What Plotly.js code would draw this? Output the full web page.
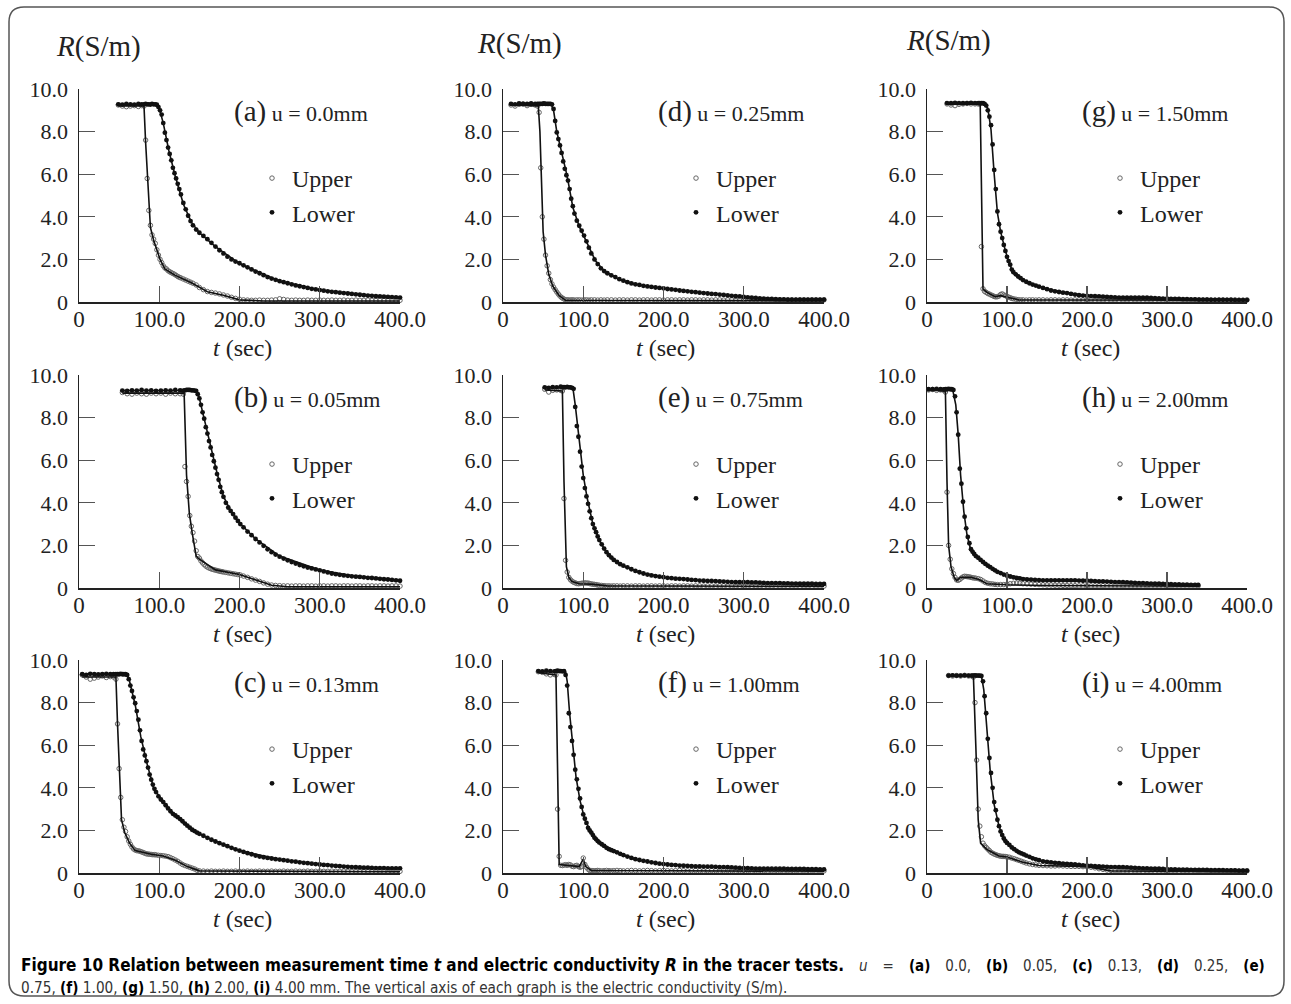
<!DOCTYPE html>
<html><head><meta charset="utf-8">
<script src="https://cdn.plot.ly/plotly-3.0.1.min.js"></script>
<style>body{margin:0;background:#fff}#chart{width:1291px;height:1004px}</style>
</head><body><div id="chart"></div>
<script>
// ---------------- DATA ----------------
// (a) u = 0.0mm
const T_a = [49,54,59,64,69,74,78,81,83,85,
 87,89,91,93,95,97,99,101,103,105,
 107,109,111,113,115,117,119,121,123,125,
 127,130,133,136,139,142,146,150,155,160,
 165,170,175,180,185,190,195,200,205,210,
 215,220,225,230,235,240,245,250,255,260,
 265,270,275,280,285,290,295,300,305,310,
 315,320,325,330,335,340,345,350,355,360,
 365,370,375,380,385,390,395,400];
const U_a = [9.25,9.2,9.17,9.2,9.22,9.18,9.22,9.2,7.6,5.8,
 4.3,3.6,3.15,2.95,2.75,2.45,2.2,2.0,1.85,1.7,
 1.6,1.55,1.47,1.42,1.38,1.34,1.3,1.25,1.2,1.16,
 1.13,1.08,1.03,0.98,0.93,0.88,0.8,0.68,0.58,0.49,
 0.45,0.42,0.38,0.33,0.28,0.22,0.17,0.13,0.1,0.09,
 0.08,0.08,0.09,0.08,0.08,0.09,0.1,0.15,0.12,0.09,
 0.08,0.09,0.08,0.08,0.09,0.08,0.08,0.09,0.08,0.08,
 0.09,0.08,0.08,0.09,0.08,0.08,0.09,0.08,0.08,0.09,
 0.08,0.08,0.09,0.08,0.08,0.09,0.08,0.08];
const L_a = [9.28,9.27,9.3,9.28,9.27,9.3,9.28,9.28,9.3,9.28,
 9.28,9.27,9.3,9.28,9.28,9.26,9.15,9.0,8.8,8.4,
 7.95,7.6,7.25,6.95,6.65,6.3,6.05,5.8,5.55,5.3,
 5.05,4.65,4.35,4.05,3.8,3.6,3.4,3.25,3.1,2.95,
 2.78,2.6,2.43,2.28,2.13,2.0,1.9,1.82,1.72,1.63,
 1.53,1.43,1.35,1.26,1.17,1.1,1.04,0.98,0.93,0.88,
 0.83,0.78,0.74,0.7,0.66,0.62,0.59,0.56,0.53,0.5,
 0.48,0.46,0.44,0.42,0.4,0.38,0.36,0.34,0.32,0.3,
 0.29,0.27,0.26,0.25,0.24,0.23,0.22,0.21];
const ULt_a = [49,81,83,89,93,101,107,120,140,160,180,200,230,400];
const ULr_a = [9.2,9.2,7.5,3.5,2.9,2.0,1.55,1.25,0.9,0.48,0.32,0.1,0.05,0.05];
const LLt_a = [49,96,100,105,112,120,130,140,150,170,200,250,300,350,400];
const LLr_a = [9.28,9.28,9.1,8.4,7.1,5.9,4.6,3.75,3.25,2.6,1.8,0.98,0.55,0.34,0.2];

// (b) u = 0.05mm
const T_b = [54,60,66,72,78,84,90,96,102,108,
 114,120,126,130,132,134,136,138,140,142,
 144,146,148,150,152,154,156,158,160,162,
 164,166,168,170,172,174,176,178,180,183,
 186,189,192,195,198,201,205,210,215,220,
 225,230,235,240,245,250,255,260,265,270,
 275,280,285,290,295,300,305,310,315,320,
 325,330,335,340,345,350,355,360,365,370,
 375,380,385,390,395,400];
const U_b = [9.18,9.12,9.1,9.15,9.12,9.1,9.15,9.12,9.15,9.1,
 9.15,9.12,9.12,9.1,5.7,5.0,4.3,3.4,2.9,2.6,
 2.2,1.75,1.48,1.4,1.27,1.18,1.1,1.03,0.98,0.94,
 0.91,0.88,0.86,0.84,0.82,0.8,0.78,0.77,0.75,0.73,
 0.71,0.69,0.67,0.65,0.63,0.61,0.56,0.5,0.43,0.37,
 0.31,0.24,0.18,0.14,0.12,0.11,0.1,0.1,0.09,0.1,
 0.1,0.09,0.1,0.1,0.09,0.1,0.1,0.09,0.1,0.1,
 0.09,0.1,0.1,0.09,0.1,0.1,0.09,0.1,0.1,0.09,
 0.1,0.1,0.09,0.1,0.1,0.09];
const L_b = [9.27,9.25,9.28,9.27,9.3,9.27,9.28,9.25,9.27,9.28,
 9.27,9.3,9.28,9.27,9.28,9.3,9.3,9.3,9.28,9.28,
 9.27,9.25,9.1,8.9,8.6,8.25,7.95,7.55,7.25,6.9,
 6.6,6.25,5.95,5.65,5.35,5.08,4.75,4.5,4.28,4.0,
 3.78,3.62,3.47,3.3,3.15,3.0,2.85,2.65,2.48,2.3,
 2.14,1.98,1.82,1.68,1.57,1.47,1.38,1.3,1.22,1.15,
 1.08,1.02,0.96,0.92,0.87,0.83,0.78,0.73,0.68,0.65,
 0.62,0.59,0.57,0.55,0.53,0.52,0.5,0.48,0.47,0.45,
 0.43,0.41,0.4,0.38,0.36,0.34];
const ULt_b = [54,131,134,137.5,141,146,150,170,200,220,240,260,400];
const ULr_b = [9.15,9.15,5.3,3.5,2.6,1.5,1.35,0.85,0.63,0.37,0.13,0.06,0.06];
const LLt_b = [54,146,150,158,165,172,180,190,200,220,250,300,350,400];
const LLr_b = [9.27,9.27,8.9,7.6,6.4,5.4,4.3,3.55,3.05,2.3,1.5,0.84,0.52,0.33];

// (c) u = 0.13mm
const T_c = [4,9,14,19,24,29,34,39,43,46,
 48,50,52,54,56,58,60,62,64,66,
 68,70,72,74,76,78,80,82,84,86,
 88,90,92,94,96,99,102,105,108,111,
 114,117,120,123,126,129,132,135,138,141,
 144,147,150,155,160,165,170,175,180,185,
 190,195,200,205,210,215,220,225,230,235,
 240,245,250,255,260,265,270,275,280,285,
 290,295,300,305,310,315,320,325,330,335,
 340,345,350,355,360,365,370,375,380,385,
 390,395,400];
const U_c = [9.3,9.2,9.1,9.15,9.2,9.25,9.18,9.22,9.2,9.1,
 7.0,4.9,3.55,2.5,2.15,1.95,1.7,1.5,1.35,1.22,
 1.13,1.08,1.05,1.04,1.02,0.99,0.96,0.93,0.9,0.89,
 0.88,0.87,0.86,0.86,0.85,0.83,0.82,0.81,0.79,0.77,
 0.72,0.67,0.61,0.55,0.47,0.4,0.35,0.31,0.27,0.23,
 0.19,0.13,0.1,0.09,0.08,0.09,0.08,0.08,0.09,0.08,
 0.08,0.09,0.08,0.08,0.09,0.08,0.08,0.09,0.08,0.08,
 0.09,0.08,0.08,0.09,0.08,0.08,0.09,0.08,0.08,0.09,
 0.08,0.08,0.09,0.08,0.08,0.09,0.08,0.08,0.09,0.08,
 0.08,0.09,0.08,0.08,0.09,0.08,0.08,0.09,0.08,0.08,
 0.09,0.08,0.08];
const L_c = [9.33,9.3,9.35,9.33,9.32,9.33,9.35,9.33,9.33,9.33,
 9.33,9.33,9.35,9.33,9.33,9.33,9.3,9.1,8.8,8.55,
 8.25,7.97,7.6,7.2,6.7,6.2,5.8,5.52,5.25,4.95,
 4.62,4.38,4.15,3.95,3.8,3.6,3.45,3.33,3.18,3.03,
 2.9,2.78,2.7,2.62,2.53,2.43,2.32,2.22,2.13,2.03,
 1.97,1.9,1.84,1.75,1.65,1.56,1.48,1.4,1.33,1.26,
 1.18,1.11,1.05,0.99,0.93,0.88,0.82,0.77,0.74,0.71,
 0.68,0.65,0.63,0.6,0.58,0.55,0.53,0.5,0.48,0.46,
 0.44,0.42,0.4,0.38,0.37,0.35,0.33,0.32,0.3,0.29,
 0.28,0.27,0.26,0.25,0.25,0.24,0.23,0.23,0.23,0.22,
 0.22,0.22,0.22];
const ULt_c = [4,46,48,51,53,57,63,70,90,105,120,135,150,400];
const ULr_c = [9.2,9.2,7.0,4.0,2.5,1.9,1.4,1.05,0.88,0.8,0.6,0.3,0.1,0.06];
const LLt_c = [4,60,63,70,77,85,93,105,120,140,160,200,250,300,350,400];
const LLr_c = [9.33,9.33,9.0,7.9,6.4,5.1,4.0,3.3,2.7,2.05,1.65,1.05,0.63,0.4,0.26,0.22];

// (d) u = 0.25mm
const T_d = [10,15,20,25,30,35,40,43,45,47,
 49,51,53,55,57,59,61,63,65,67,
 69,71,73,75,77,79,81,83,85,87,
 89,92,95,98,101,104,107,110,114,118,
 122,126,130,135,140,145,150,155,160,165,
 170,175,180,185,190,195,200,205,210,215,
 220,225,230,235,240,245,250,255,260,265,
 270,275,280,285,290,295,300,305,310,315,
 320,325,330,335,340,345,350,355,360,365,
 370,375,380,385,390,395,400];
const U_d = [9.25,9.2,9.28,9.3,9.22,9.28,9.25,9.2,8.9,6.3,
 4.0,2.95,2.2,1.7,1.35,1.05,0.85,0.7,0.58,0.47,
 0.37,0.28,0.21,0.16,0.12,0.1,0.1,0.09,0.1,0.1,
 0.09,0.1,0.1,0.09,0.1,0.1,0.09,0.1,0.1,0.09,
 0.1,0.09,0.1,0.1,0.09,0.1,0.1,0.09,0.1,0.1,
 0.09,0.1,0.1,0.09,0.1,0.1,0.09,0.1,0.1,0.09,
 0.1,0.1,0.09,0.1,0.1,0.09,0.1,0.1,0.09,0.1,
 0.1,0.09,0.1,0.1,0.09,0.1,0.1,0.09,0.1,0.1,
 0.09,0.1,0.1,0.09,0.1,0.1,0.09,0.1,0.1,0.09,
 0.1,0.1,0.09,0.1,0.1,0.09,0.1];
const L_d = [9.3,9.28,9.32,9.3,9.3,9.32,9.3,9.3,9.3,9.3,
 9.3,9.32,9.3,9.3,9.3,9.3,9.28,9.06,8.5,7.96,
 7.65,7.35,7.0,6.6,6.25,5.95,5.7,5.3,4.85,4.5,
 4.15,3.82,3.58,3.35,3.12,2.85,2.55,2.28,2.0,1.78,
 1.58,1.45,1.35,1.25,1.17,1.07,1.0,0.93,0.87,0.83,
 0.8,0.76,0.73,0.71,0.68,0.66,0.64,0.61,0.59,0.57,
 0.54,0.52,0.5,0.48,0.46,0.44,0.42,0.4,0.38,0.37,
 0.35,0.33,0.31,0.29,0.27,0.26,0.24,0.22,0.2,0.19,
 0.17,0.16,0.15,0.14,0.13,0.12,0.12,0.11,0.11,0.11,
 0.11,0.11,0.11,0.11,0.11,0.11,0.11];
const ULt_d = [10,44,46,48,50,53,57,62,70,78,400];
const ULr_d = [9.25,9.2,8.0,5.0,3.3,2.2,1.3,0.75,0.3,0.08,0.06];
const LLt_d = [10,60,63,67,72,80,87,95,105,115,125,145,170,200,250,300,350,400];
const LLr_d = [9.3,9.3,9.0,8.0,7.2,5.9,4.45,3.55,2.75,1.95,1.5,1.05,0.8,0.64,0.42,0.24,0.12,0.1];

// (e) u = 0.75mm
const T_e = [52,57,62,67,72,74,76,78,80,82,
 84,86,88,90,92,94,96,98,100,102,
 104,106,108,110,112,114,116,118,120,123,
 126,129,132,135,138,142,146,150,155,160,
 165,170,175,180,185,190,195,200,205,210,
 215,220,225,230,235,240,245,250,255,260,
 265,270,275,280,285,290,295,300,305,310,
 315,320,325,330,335,340,345,350,355,360,
 365,370,375,380,385,390,395,400];
const U_e = [9.33,9.2,9.28,9.3,9.28,9.25,4.2,1.3,0.75,0.5,
 0.39,0.32,0.27,0.24,0.21,0.2,0.21,0.22,0.23,0.24,
 0.23,0.23,0.21,0.19,0.18,0.17,0.16,0.14,0.13,0.12,
 0.11,0.1,0.1,0.09,0.1,0.1,0.09,0.1,0.1,0.09,
 0.1,0.1,0.09,0.1,0.1,0.09,0.1,0.1,0.09,0.1,
 0.1,0.09,0.1,0.1,0.09,0.1,0.1,0.09,0.1,0.1,
 0.09,0.1,0.1,0.09,0.1,0.1,0.09,0.1,0.1,0.09,
 0.1,0.1,0.09,0.1,0.1,0.09,0.1,0.1,0.09,0.1,
 0.1,0.09,0.1,0.1,0.09,0.1,0.1,0.09];
const L_e = [9.42,9.4,9.43,9.42,9.45,9.42,9.43,9.42,9.44,9.42,
 9.42,9.4,9.35,8.5,7.6,7.1,6.4,5.7,5.16,4.69,
 4.3,3.95,3.6,3.28,3.0,2.8,2.62,2.42,2.25,2.05,
 1.85,1.68,1.54,1.43,1.32,1.22,1.12,1.05,0.97,0.88,
 0.8,0.74,0.68,0.63,0.59,0.56,0.53,0.51,0.48,0.46,
 0.44,0.43,0.42,0.4,0.38,0.37,0.35,0.34,0.33,0.33,
 0.32,0.31,0.3,0.29,0.28,0.27,0.27,0.27,0.27,0.26,
 0.26,0.25,0.24,0.23,0.23,0.23,0.23,0.22,0.22,0.21,
 0.21,0.2,0.2,0.2,0.2,0.19,0.19,0.19];
const ULt_e = [52,74,76,79,82,86,95,110,130,400];
const ULr_e = [9.3,9.25,5.0,1.0,0.5,0.3,0.2,0.18,0.1,0.08];
const LLt_e = [52,87,90,95,100,105,112,120,130,145,170,200,250,300,400];
const LLr_e = [9.42,9.42,8.6,7.0,5.3,4.2,3.0,2.25,1.6,1.12,0.74,0.5,0.34,0.27,0.18];

// (f) u = 1.00mm
const T_f = [44,49,54,59,64,66,68,70,72,74,
 76,78,80,82,84,86,88,90,92,94,
 96,98,100,102,104,106,108,110,112,114,
 116,118,120,123,126,129,132,135,138,142,
 146,150,155,160,165,170,175,180,185,190,
 195,200,205,210,215,220,225,230,235,240,
 245,250,255,260,265,270,275,280,285,290,
 295,300,305,310,315,320,325,330,335,340,
 345,350,355,360,365,370,375,380,385,390,
 395,400];
const U_f = [9.45,9.42,9.35,9.3,9.32,9.3,3.0,0.78,0.36,0.35,
 0.37,0.39,0.36,0.4,0.38,0.32,0.3,0.34,0.36,0.3,
 0.27,0.3,0.7,0.4,0.27,0.18,0.12,0.11,0.11,0.1,
 0.11,0.12,0.11,0.1,0.11,0.12,0.11,0.1,0.11,0.12,
 0.11,0.1,0.11,0.12,0.11,0.1,0.11,0.12,0.11,0.1,
 0.11,0.12,0.11,0.1,0.11,0.12,0.11,0.1,0.11,0.12,
 0.11,0.1,0.11,0.12,0.11,0.1,0.11,0.12,0.11,0.1,
 0.11,0.12,0.11,0.1,0.11,0.12,0.11,0.1,0.11,0.12,
 0.11,0.1,0.11,0.12,0.11,0.1,0.11,0.12,0.11,0.1,
 0.11,0.1];
const L_f = [9.48,9.47,9.5,9.48,9.47,9.48,9.5,9.48,9.48,9.47,
 9.48,9.3,8.8,7.5,6.85,6.2,5.55,4.85,4.4,3.95,
 3.5,3.1,2.75,2.55,2.35,2.12,2.0,1.9,1.78,1.66,
 1.58,1.5,1.43,1.35,1.27,1.18,1.12,1.07,1.03,0.97,
 0.9,0.84,0.77,0.71,0.65,0.61,0.57,0.54,0.5,0.47,
 0.44,0.42,0.4,0.38,0.37,0.35,0.34,0.33,0.32,0.31,
 0.31,0.3,0.3,0.3,0.29,0.28,0.28,0.27,0.26,0.25,
 0.24,0.23,0.23,0.22,0.21,0.21,0.2,0.2,0.2,0.2,
 0.2,0.2,0.19,0.19,0.19,0.19,0.19,0.18,0.18,0.18,
 0.17,0.17];
const ULt_f = [44,66,70,80,95,100,103,110,400];
const ULr_f = [9.4,9.3,0.4,0.35,0.3,0.65,0.3,0.12,0.08];
const LLt_f = [44,78,80,83,87,91,96,102,110,120,140,170,200,250,300,400];
const LLr_f = [9.45,9.45,9.0,7.5,6.0,4.5,3.4,2.5,1.9,1.45,1.0,0.6,0.42,0.3,0.23,0.15];

// (g) u = 1.50mm
const T_g = [25,30,35,40,45,50,55,60,64,66,
 68,70,72,74,76,78,80,82,84,86,
 88,90,92,94,96,98,100,102,104,106,
 108,111,114,117,120,124,128,132,136,140,
 145,150,155,160,165,170,175,180,185,190,
 195,200,205,210,215,220,225,230,235,240,
 245,250,255,260,265,270,275,280,285,290,
 295,300,305,310,315,320,325,330,335,340,
 345,350,355,360,365,370,375,380,385,390,
 395,400];
const U_g = [9.3,9.25,9.22,9.28,9.3,9.32,9.3,9.3,9.3,9.3,
 2.6,0.62,0.5,0.45,0.4,0.37,0.33,0.3,0.26,0.24,
 0.25,0.28,0.35,0.38,0.33,0.3,0.26,0.23,0.2,0.17,
 0.15,0.13,0.11,0.1,0.1,0.09,0.1,0.1,0.09,0.1,
 0.1,0.09,0.1,0.1,0.09,0.1,0.1,0.09,0.1,0.1,
 0.09,0.1,0.1,0.09,0.1,0.1,0.09,0.1,0.1,0.09,
 0.1,0.1,0.09,0.1,0.1,0.09,0.1,0.1,0.09,0.1,
 0.1,0.09,0.1,0.1,0.09,0.1,0.1,0.09,0.1,0.1,
 0.09,0.1,0.1,0.09,0.1,0.1,0.09,0.1,0.1,0.09,
 0.09,0.1];
const L_g = [9.34,9.33,9.35,9.34,9.33,9.34,9.35,9.34,9.34,9.34,
 9.34,9.33,9.3,9.22,9.0,8.7,8.3,7.4,6.2,5.3,
 4.25,3.65,3.3,3.0,2.68,2.4,2.12,1.92,1.75,1.52,
 1.4,1.3,1.2,1.12,1.03,0.95,0.88,0.82,0.77,0.72,
 0.66,0.6,0.54,0.5,0.47,0.44,0.42,0.38,0.35,0.32,
 0.3,0.29,0.28,0.27,0.26,0.25,0.24,0.23,0.22,0.21,
 0.21,0.2,0.2,0.2,0.2,0.2,0.2,0.19,0.18,0.17,
 0.16,0.16,0.15,0.15,0.14,0.13,0.13,0.12,0.12,0.11,
 0.11,0.11,0.1,0.1,0.1,0.1,0.1,0.1,0.09,0.09,
 0.09,0.09];
const ULt_g = [25,66.5,70,75,85,92,100,115,400];
const ULr_g = [9.3,9.3,0.6,0.45,0.25,0.3,0.22,0.1,0.08];
const LLt_g = [25,72,76,80,84,88,92,98,103,108,120,140,170,200,250,300,400];
const LLr_g = [9.3,9.3,9.1,8.1,6.0,4.2,3.3,2.4,1.8,1.35,1.05,0.72,0.45,0.3,0.2,0.16,0.08];

// (h) u = 2.00mm
const T_h = [2,7,12,17,21,23,25,27,29,31,
 33,35,37,39,41,43,45,47,49,51,
 53,55,57,59,61,64,67,70,73,76,
 79,82,85,88,92,96,100,104,108,112,
 116,120,125,130,135,140,145,150,155,160,
 165,170,175,180,185,190,195,200,205,210,
 215,220,225,230,235,240,245,250,255,260,
 265,270,275,280,285,290,295,300,305,310,
 315,320,325,330,335,339];
const U_h = [9.3,9.32,9.28,9.3,9.28,9.2,4.5,2.0,1.35,0.9,
 0.68,0.5,0.38,0.36,0.4,0.47,0.52,0.55,0.54,0.53,
 0.52,0.5,0.48,0.47,0.46,0.44,0.4,0.33,0.26,0.22,
 0.2,0.19,0.17,0.16,0.16,0.16,0.18,0.2,0.22,0.23,
 0.22,0.2,0.19,0.18,0.17,0.16,0.15,0.14,0.14,0.13,
 0.13,0.12,0.12,0.11,0.11,0.1,0.1,0.11,0.1,0.1,
 0.1,0.11,0.1,0.1,0.1,0.1,0.11,0.1,0.1,0.1,
 0.1,0.1,0.11,0.1,0.1,0.1,0.1,0.1,0.11,0.1,
 0.1,0.1,0.1,0.1,0.1,0.1];
const L_h = [9.33,9.33,9.35,9.33,9.32,9.33,9.33,9.35,9.33,9.33,
 9.3,9.0,8.25,7.2,5.6,4.9,4.05,3.35,2.8,2.4,
 2.1,1.82,1.7,1.6,1.5,1.42,1.32,1.22,1.13,1.05,
 0.98,0.9,0.83,0.76,0.7,0.63,0.58,0.54,0.5,0.47,
 0.45,0.42,0.4,0.39,0.38,0.37,0.36,0.36,0.36,0.36,
 0.36,0.36,0.36,0.36,0.36,0.35,0.34,0.34,0.33,0.32,
 0.31,0.31,0.3,0.29,0.28,0.28,0.27,0.26,0.25,0.24,
 0.23,0.23,0.22,0.21,0.2,0.2,0.19,0.19,0.18,0.17,
 0.17,0.16,0.16,0.15,0.15,0.14];
const ULt_h = [2,23,25,27,30,34,37,42,55,65,75,100,150,339];
const ULr_h = [9.3,9.25,5.0,2.0,1.0,0.5,0.35,0.5,0.5,0.4,0.2,0.15,0.12,0.08];
const LLt_h = [2,32,36,39,42,46,50,55,60,70,85,100,130,200,260,339];
const LLr_h = [9.33,9.33,8.6,7.2,5.3,3.6,2.5,1.75,1.55,1.25,0.85,0.6,0.4,0.33,0.24,0.14];

// (i) u = 4.00mm
const T_i = [27,32,37,42,47,52,56,58,60,62,
 64,66,68,70,72,74,76,78,80,82,
 84,86,88,90,92,94,96,98,100,103,
 106,109,112,115,118,121,124,128,132,136,
 140,145,150,155,160,165,170,175,180,185,
 190,195,200,205,210,215,220,225,230,235,
 240,245,250,255,260,265,270,275,280,285,
 290,295,300,305,310,315,320,325,330,335,
 340,345,350,355,360,365,370,375,380,385,
 390,395,400];
const U_i = [9.27,9.25,9.27,9.25,9.28,9.25,9.25,9.2,8.0,5.3,
 3.0,2.2,1.7,1.4,1.28,1.2,1.12,1.05,0.97,0.93,
 0.89,0.86,0.83,0.81,0.79,0.78,0.78,0.77,0.76,0.74,
 0.7,0.67,0.63,0.59,0.55,0.51,0.47,0.43,0.4,0.38,
 0.36,0.35,0.34,0.33,0.33,0.34,0.33,0.32,0.31,0.31,
 0.31,0.3,0.29,0.27,0.24,0.2,0.17,0.14,0.12,0.11,
 0.11,0.1,0.1,0.09,0.1,0.1,0.09,0.1,0.1,0.09,
 0.1,0.1,0.09,0.1,0.1,0.09,0.1,0.1,0.09,0.1,
 0.1,0.09,0.1,0.1,0.09,0.1,0.1,0.09,0.1,0.1,
 0.09,0.1,0.1];
const L_i = [9.27,9.28,9.27,9.27,9.28,9.27,9.27,9.27,9.28,9.27,
 9.27,9.27,9.25,9.0,8.3,7.5,6.3,5.4,4.7,4.0,
 3.33,2.95,2.5,2.2,1.95,1.78,1.62,1.5,1.41,1.32,
 1.2,1.12,1.04,0.97,0.92,0.87,0.82,0.76,0.69,0.64,
 0.6,0.55,0.52,0.5,0.48,0.46,0.44,0.43,0.41,0.4,
 0.38,0.36,0.35,0.33,0.32,0.31,0.3,0.29,0.28,0.28,
 0.27,0.27,0.26,0.25,0.24,0.23,0.22,0.22,0.21,0.2,
 0.2,0.19,0.18,0.17,0.17,0.16,0.16,0.16,0.15,0.15,
 0.14,0.14,0.14,0.13,0.13,0.13,0.13,0.12,0.12,0.12,
 0.11,0.11,0.11];
const ULt_i = [27,58,61,64,67,75,90,100,120,140,200,230,400];
const ULr_i = [9.25,9.25,6.0,2.5,1.4,1.1,0.8,0.75,0.5,0.35,0.3,0.1,0.06];
const LLt_i = [27,68,71,75,79,84,90,96,105,120,145,200,250,300,400];
const LLr_i = [9.27,9.27,8.6,6.8,4.8,3.2,2.2,1.6,1.25,0.9,0.55,0.35,0.26,0.18,0.1];

const panelLetters = ['a','b','c','d','e','f','g','h','i'];
const panelU = ['0.0','0.05','0.13','0.25','0.75','1.00','1.50','2.00','4.00'];
const xTickVals = [0,100,200,300,400];
const xTickText = ['0','100.0','200.0','300.0','400.0'];
const yTickVals = [0,2,4,6,8,10];
const yTickText = ['0','2.0','4.0','6.0','8.0','10.0'];
const seriesNames = ['Upper','Lower'];

const panelData = [
 [T_a,U_a,L_a,ULt_a,ULr_a,LLt_a,LLr_a],
 [T_b,U_b,L_b,ULt_b,ULr_b,LLt_b,LLr_b],
 [T_c,U_c,L_c,ULt_c,ULr_c,LLt_c,LLr_c],
 [T_d,U_d,L_d,ULt_d,ULr_d,LLt_d,LLr_d],
 [T_e,U_e,L_e,ULt_e,ULr_e,LLt_e,LLr_e],
 [T_f,U_f,L_f,ULt_f,ULr_f,LLt_f,LLr_f],
 [T_g,U_g,L_g,ULt_g,ULr_g,LLt_g,LLr_g],
 [T_h,U_h,L_h,ULt_h,ULr_h,LLt_h,LLr_h],
 [T_i,U_i,L_i,ULt_i,ULr_i,LLt_i,LLr_i]
];

// ---------------- LAYOUT ----------------
const W = 1291, H = 1004;
const colLeft = [79, 503, 927];
const colW = [321, 321, 320];
const rowTop = [89, 375, 660];
const rowH = 213;
const X = px => px / W;
const Y = py => 1 - py / H;
const SERIF = 'Liberation Serif, Times New Roman, serif';

const traces = [];
const layout = {
  width: W, height: H, autosize: false,
  margin: {l: 0, r: 0, t: 0, b: 0},
  paper_bgcolor: '#fff', plot_bgcolor: '#fff',
  showlegend: true,
  annotations: [], shapes: []
};

panelData.forEach((pd, k) => {
  const col = Math.floor(k / 3), row = k % 3;
  const n = k + 1;
  const xa = n === 1 ? 'x' : 'x' + n, ya = n === 1 ? 'y' : 'y' + n;
  const lg = n === 1 ? 'legend' : 'legend' + n;
  const [T, U, L, ULt, ULr, LLt, LLr] = pd;
  traces.push({type: 'scatter', mode: 'markers', x: T, y: U, xaxis: xa, yaxis: ya,
    name: seriesNames[0], legend: lg, cliponaxis: false,
    marker: {symbol: 'circle-open', size: 4.5, color: '#666', line: {width: 1, color: '#666'}}});
  traces.push({type: 'scatter', mode: 'markers', x: T, y: L, xaxis: xa, yaxis: ya,
    name: seriesNames[1], legend: lg, cliponaxis: false,
    marker: {symbol: 'circle', size: 4.8, color: '#111'}});
  traces.push({type: 'scatter', mode: 'lines', x: ULt, y: ULr, xaxis: xa, yaxis: ya,
    showlegend: false, cliponaxis: false, line: {color: '#111', width: 1.6}});
  traces.push({type: 'scatter', mode: 'lines', x: LLt, y: LLr, xaxis: xa, yaxis: ya,
    showlegend: false, cliponaxis: false, line: {color: '#111', width: 1.6}});

  const x0 = colLeft[col], x1 = colLeft[col] + colW[col];
  const y0 = rowTop[row], y1 = rowTop[row] + rowH;
  const axCommon = {showgrid: false, zeroline: false, showline: true, linecolor: '#222', linewidth: 1.5,
    ticks: 'inside', ticklen: 16, tickwidth: 1.3, tickcolor: '#555', fixedrange: true,
    tickfont: {family: SERIF, size: 22, color: '#222'}};
  layout['xaxis' + (n === 1 ? '' : n)] = Object.assign({}, axCommon, {
    domain: [X(x0), X(x1)], anchor: ya, range: [0, 400],
    tickmode: 'array', tickvals: xTickVals, ticktext: xTickText, ticklabelstandoff: -4,
    tickfont: {family: SERIF, size: 23, color: '#222'}});
  layout['yaxis' + (n === 1 ? '' : n)] = Object.assign({}, axCommon, {
    domain: [Y(y1), Y(y0)], anchor: xa, range: [0, 10],
    tickmode: 'array', tickvals: yTickVals, ticktext: yTickText, ticklabelstandoff: 5});

  layout[lg] = {x: X(x0 + 173), y: Y(y0 + 67), xanchor: 'left', yanchor: 'top',
    bgcolor: 'rgba(0,0,0,0)', borderwidth: 0, font: {family: SERIF, size: 24, color: '#222'},
    itemwidth: 30, tracegroupgap: 0};

  layout.annotations.push({xref: 'paper', yref: 'paper', x: X(x0 + 153), y: Y(y0 + 22),
    xanchor: 'left', yanchor: 'middle', showarrow: false,
    text: '<span style="font-size:29px">(' + panelLetters[k] + ')</span> u = ' + panelU[k] + 'mm',
    font: {family: SERIF, size: 22, color: '#222'}});
  layout.annotations.push({xref: 'paper', yref: 'paper', x: X(x0 + 163), y: Y(y1 + 46),
    xanchor: 'center', yanchor: 'middle', showarrow: false,
    text: '<i>t</i> (sec)', font: {family: SERIF, size: 24, color: '#222'}});
});

// R(S/m) labels over the top row
const rLabelPos = [[98, 47], [519, 44], [948, 41]];
rLabelPos.forEach(p => layout.annotations.push({xref: 'paper', yref: 'paper', x: X(p[0]), y: Y(p[1]),
  xanchor: 'center', yanchor: 'middle', showarrow: false,
  text: '<i>R</i>(S/m)', font: {family: SERIF, size: 29, color: '#222'}}));

// caption (first line justified in the original: extra word spacing on its regular part)
const B = s => '<b><span style="color:#000">' + s + '</span></b>';
const capLine1 = B('Figure 10 Relation between measurement time <i>t</i> and electric conductivity <i>R</i> in the tracer tests.') +
  '<span style="font-size:15px;word-spacing:10.7px"> <i>u</i> = ' + B('(a)') + ' 0.0, ' + B('(b)') + ' 0.05, ' + B('(c)') + ' 0.13, ' + B('(d)') + ' 0.25, ' + B('(e)') + '</span>';
const capLine2 = '<span style="font-size:15.2px">0.75, ' + B('(f)') + ' 1.00, ' + B('(g)') + ' 1.50, ' + B('(h)') + ' 2.00, ' + B('(i)') +
  ' 4.00 mm. The vertical axis of each graph is the electric conductivity (S/m).</span>';
layout.annotations.push({xref: 'paper', yref: 'paper', x: X(19), y: Y(953), xanchor: 'left', yanchor: 'top',
  align: 'left', showarrow: false,
  font: {family: 'Liberation Sans Narrow, DejaVu Sans Condensed, Roboto Condensed, Liberation Sans, sans-serif', size: 17, color: '#333'},
  text: capLine1 + '<br>' + capLine2});

// rounded frame
const fr = {l: 9, t: 7, r: 1284, b: 996, rad: 15};
layout.shapes.push({type: 'path', xref: 'paper', yref: 'paper', layer: 'below',
  line: {color: '#555', width: 1.5},
  path: `M ${X(fr.l + fr.rad)},${Y(fr.t)} L ${X(fr.r - fr.rad)},${Y(fr.t)} Q ${X(fr.r)},${Y(fr.t)} ${X(fr.r)},${Y(fr.t + fr.rad)} ` +
        `L ${X(fr.r)},${Y(fr.b - fr.rad)} Q ${X(fr.r)},${Y(fr.b)} ${X(fr.r - fr.rad)},${Y(fr.b)} ` +
        `L ${X(fr.l + fr.rad)},${Y(fr.b)} Q ${X(fr.l)},${Y(fr.b)} ${X(fr.l)},${Y(fr.b - fr.rad)} ` +
        `L ${X(fr.l)},${Y(fr.t + fr.rad)} Q ${X(fr.l)},${Y(fr.t)} ${X(fr.l + fr.rad)},${Y(fr.t)} Z`});

Plotly.newPlot('chart', traces, layout, {staticPlot: true, displayModeBar: false});
</script>
</body></html>
